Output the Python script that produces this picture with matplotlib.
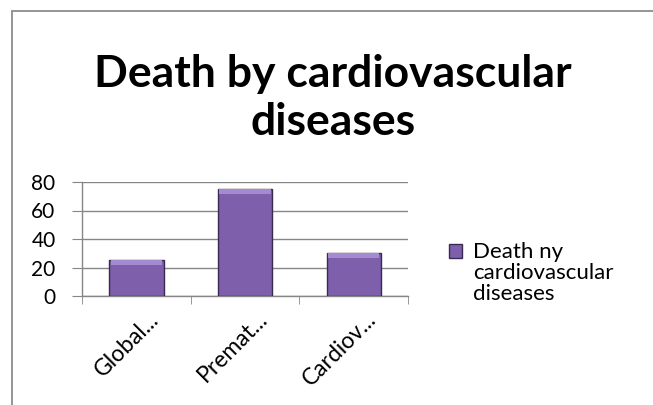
import matplotlib
matplotlib.use("Agg")
import matplotlib.pyplot as plt
import matplotlib.transforms as mtransforms
from matplotlib.patches import Rectangle
from matplotlib.container import BarContainer
from matplotlib.legend_handler import HandlerPatch

categories = ["Global...", "Premat...", "Cardiov..."]
values = [25, 75, 30]
series_name = "Death ny\ncardiovascular\ndiseases"
title = "Death by cardiovascular\ndiseases"
yticks = [0, 20, 40, 60, 80]

plt.rcParams['font.family'] = ['Lato', 'DejaVu Sans']

fig = plt.figure(figsize=(6.53, 4.05), dpi=100)
fig.patch.set_facecolor("white")

# chart border (cut off on right and bottom like the screenshot)
fig.patches.append(Rectangle((12 / 653, -0.1), 1.0, 1 - 11 / 405 + 0.1,
                             transform=fig.transFigure, fill=False,
                             edgecolor="#8c8c8c", linewidth=1.3))

ax = fig.add_axes([82 / 653, 1 - 296 / 405, (408 - 82) / 653, (296 - 182) / 405])

x = list(range(len(categories)))
bars = ax.bar(x, values, width=0.5, color="#7d5fab", edgecolor="#3a2a50",
              linewidth=1.0, label=series_name, zorder=3)
# light bevel strip on top of each bar
bevel = 3.2
ax.bar(x, [bevel] * len(values), bottom=[v - bevel for v in values], width=0.47,
       color="#a48ace", linewidth=0, zorder=4)

ax.set_xlim(-0.5, len(categories) - 0.5)
ax.set_ylim(0, 80)
ax.set_yticks(yticks)
ax.yaxis.grid(True, color="#868686", linewidth=1.0, zorder=0)
for s in ["top", "right"]:
    ax.spines[s].set_visible(False)
for s in ["left", "bottom"]:
    ax.spines[s].set_color("#868686")
    ax.spines[s].set_linewidth(1.0)

ax.tick_params(axis="y", length=7, color="#868686", labelsize=15, pad=12)
ax.set_xticks(x)
ax.set_xticks([i - 0.5 for i in range(len(categories) + 1)], minor=True)
ax.tick_params(axis="x", which="major", length=0, labelsize=16.5, pad=9)
ax.tick_params(axis="x", which="minor", length=6, color="#868686")
ax.set_xticklabels(categories, rotation=45, ha="right", va="top",
                   rotation_mode="anchor")
offset = mtransforms.ScaledTranslation(12 / 100, 0, fig.dpi_scale_trans)
for lab in ax.get_xticklabels():
    lab.set_transform(lab.get_transform() + offset)

fig.text(333 / 653, 1 - 135 / 405, title, ha="center", va="baseline",
         fontsize=32, fontweight="bold", linespacing=1.25)


def top_square(legend, orig_handle, xdescent, ydescent, width, height, fontsize):
    # put the key next to the first line of the label
    return Rectangle((-xdescent, -ydescent + 16), width, height)


def from_first_bar(legend_handle, orig_handle):
    legend_handle.update_from(orig_handle.patches[0])


leg = ax.legend(loc="upper left", bbox_to_anchor=(449 / 653, 1 - 242 / 405),
                bbox_transform=fig.transFigure, frameon=False, fontsize=16,
                handlelength=0.58, handleheight=0.58, handletextpad=0.5,
                borderpad=0, borderaxespad=0,
                handler_map={BarContainer: HandlerPatch(patch_func=top_square,
                                                        update_func=from_first_bar)})
for t in leg.get_texts():
    t.set_linespacing(1.05)

fig.savefig("out.png", dpi=100)
